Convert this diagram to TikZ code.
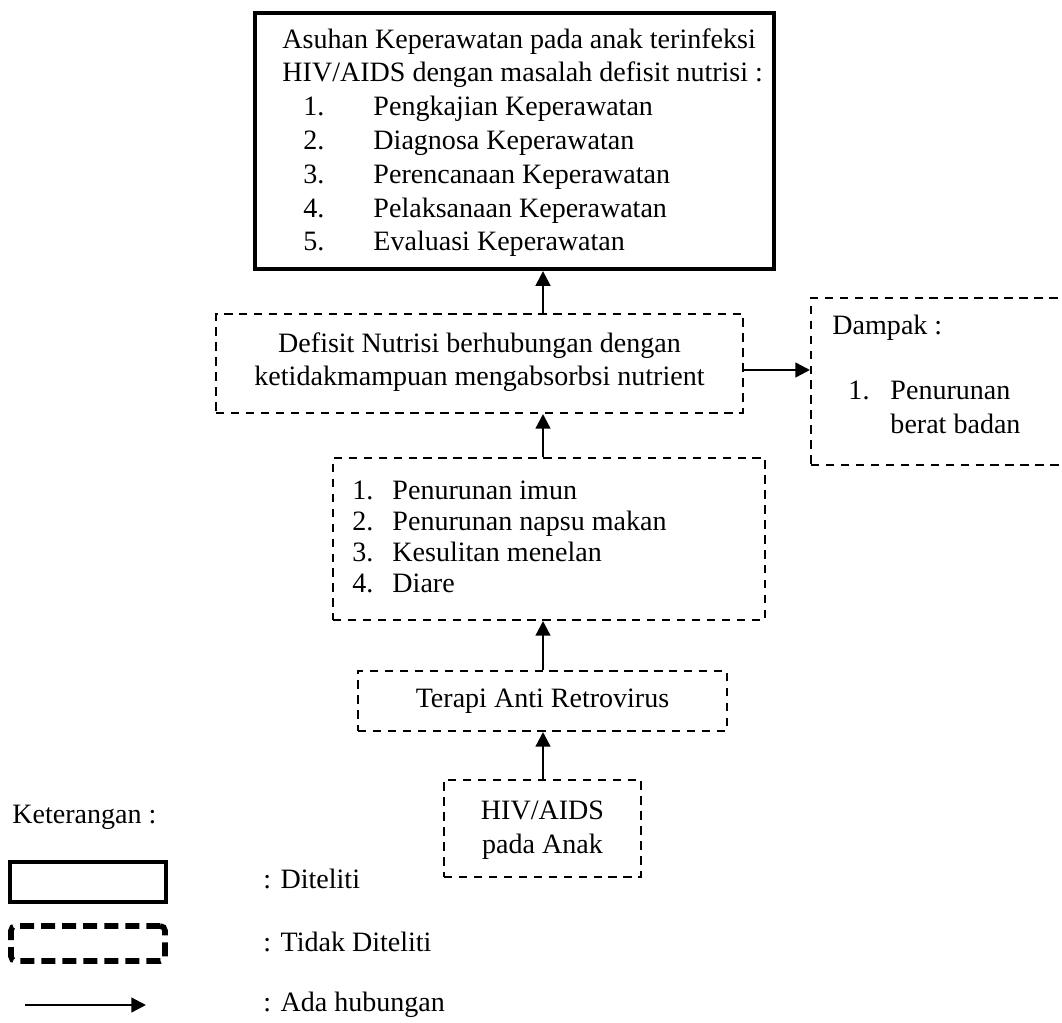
\documentclass[tikz,border=0pt]{standalone}
\usepackage{fontspec}
\setmainfont{Liberation Serif}
\usetikzlibrary{arrows.meta, fit, positioning}

\tikzset{
  teks/.style={font=\fontsize{12}{14}\selectfont, inner sep=0pt, text height=8pt, text depth=2.5pt},
  diteliti/.style={draw, line width=1.8pt, inner sep=0pt},
  tdkditeliti/.style={draw, line width=0.85pt, dash pattern=on 3.6pt off 2.8pt, inner sep=0pt},
  hubungan/.style={-{Triangle[length=6.3pt,width=6.3pt]}, line width=1pt},
}

\begin{document}
\begin{tikzpicture}[x=0.428pt, y=-0.428pt]
  \useasboundingbox (0,0) rectangle (1062,1023);
  \clip (0,0) rectangle (1062,1023);
  \coordinate (sumbu) at (543,0);
  \coordinate (kanan) at (0,370);

  % kotak
  \node[diteliti, fit={(255,13) (774,269)}] (asuhan) {};
  \node[tdkditeliti, fit={(216,314) (743,413)}] (defisit) {};
  \node[tdkditeliti, fit={(811,298) (1090,465)}] (dampak) {};
  \node[tdkditeliti, fit={(333,458) (765,620)}] (faktor) {};
  \node[tdkditeliti, fit={(358,671) (727,731)}] (terapi) {};
  \node[tdkditeliti, fit={(444,780) (641,877)}] (hiv) {};

  % isi kotak
  \node[teks, anchor=west] (judul1) at (282,42) {Asuhan Keperawatan pada anak terinfeksi};
  \node[teks, anchor=west] (judul2) at (282,75.5) {HIV/AIDS dengan masalah defisit nutrisi :};
  \foreach \isi [count=\i] in {Pengkajian, Diagnosa, Perencanaan, Pelaksanaan, Evaluasi} {
    \node[teks, anchor=west] (no\i) at (303,{75.5+33.8*\i}) {\i.};
    \node[teks, anchor=west] (tahap\i) at (373,{75.5+33.8*\i}) {\isi{} Keperawatan};
  }
  \node[teks] (defisit1) at (479.5,346) {Defisit Nutrisi berhubungan dengan};
  \node[teks] (defisit2) at (479.5,379) {ketidakmampuan mengabsorbsi nutrient};
  \node[teks, anchor=west] (dampak0) at (832,328) {Dampak :};
  \node[teks, anchor=west] (dampakno) at (848,393) {1.};
  \node[teks, anchor=west] (dampak1) at (890,393) {Penurunan};
  \node[teks, anchor=west] (dampak2) at (890,427) {berat badan};
  \foreach \isi [count=\i] in {Penurunan imun, Penurunan napsu makan, Kesulitan menelan, Diare} {
    \node[teks, anchor=west] (fno\i) at (352,{462+31*\i}) {\i.};
    \node[teks, anchor=west] (faktor\i) at (392,{462+31*\i}) {\isi};
  }
  \node[teks] (terapi1) at (542.5,701) {Terapi Anti Retrovirus};
  \node[teks] (hiv1) at (542.5,813) {HIV/AIDS};
  \node[teks] (hiv2) at (542.5,847) {pada Anak};

  % panah
  \draw[hubungan] (hiv.north -| sumbu) -- (terapi.south -| sumbu);
  \draw[hubungan] (terapi.north -| sumbu) -- (faktor.south -| sumbu);
  \draw[hubungan] (faktor.north -| sumbu) -- (defisit.south -| sumbu);
  \draw[hubungan] (defisit.north -| sumbu) -- (asuhan.south -| sumbu);
  \draw[hubungan] (defisit.east |- kanan) -- (dampak.west |- kanan);

  % keterangan
  \node[teks, anchor=west] (ket) at (12,817) {Keterangan :};
  \node[diteliti, line width=1.6pt, fit={(10,862) (166,902)}] (lgd1) {};
  \node[tdkditeliti, line width=2.4pt, dash pattern=on 6pt off 3pt, rounded corners=2pt, fit={(11,926) (165,961)}] (lgd2) {};
  \coordinate (lgd3a) at (25,1005);
  \coordinate (lgd3b) at (146,1005);
  \draw[hubungan] (lgd3a) -- (lgd3b);
  \node[teks, anchor=west] (arti1) at (263,882) {: Diteliti};
  \node[teks, anchor=west] (arti2) at (263,945) {: Tidak Diteliti};
  \node[teks, anchor=west] (arti3) at (263,1005) {: Ada hubungan};
\end{tikzpicture}
\end{document}
